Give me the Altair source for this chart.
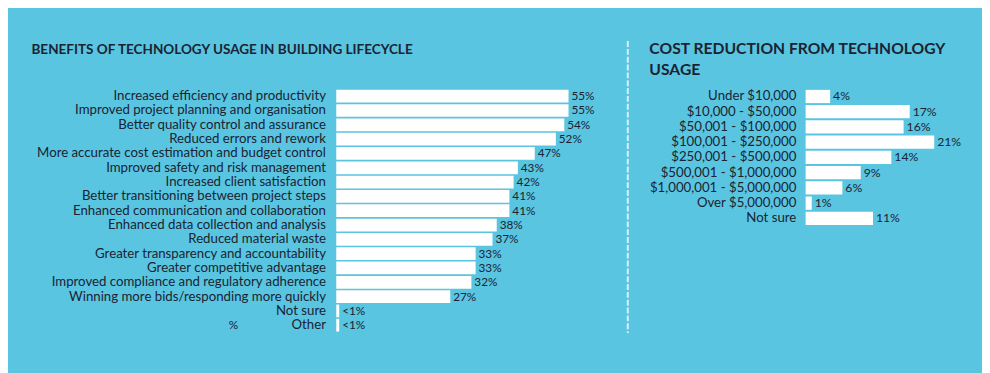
import altair as alt
import pandas as pd

# ---- data ----
benefit_labels = [
    "Increased efficiency and productivity",
    "Improved project planning and organisation",
    "Better quality control and assurance",
    "Reduced errors and rework",
    "More accurate cost estimation and budget control",
    "Improved safety and risk management",
    "Increased client satisfaction",
    "Better transitioning between project steps",
    "Enhanced communication and collaboration",
    "Enhanced data collection and analysis",
    "Reduced material waste",
    "Greater transparency and accountability",
    "Greater competitive advantage",
    "Improved compliance and regulatory adherence",
    "Winning more bids/responding more quickly",
    "Not sure",
    "Other",
]
benefit_values = [55, 55, 54, 52, 47, 43, 42, 41, 41, 38, 37, 33, 33, 32, 27, 0.7, 0.7]
benefit_texts = ["55%", "55%", "54%", "52%", "47%", "43%", "42%", "41%", "41%", "38%",
                 "37%", "33%", "33%", "32%", "27%", "<1%", "<1%"]

cost_labels = [
    "Under $10,000",
    "$10,000 - $50,000",
    "$50,001 - $100,000",
    "$100,001 - $250,000",
    "$250,001 - $500,000",
    "$500,001 - $1,000,000",
    "$1,000,001 - $5,000,000",
    "Over $5,000,000",
    "Not sure",
]
cost_values = [4, 17, 16, 21, 14, 9, 6, 1, 11]
cost_texts = ["4%", "17%", "16%", "21%", "14%", "9%", "6%", "1%", "11%"]

stray_text = ["%"]
stray_row = ["Other"]

BG = "#59c5e0"
INK = "#1b2333"
FONT = "Lato"

bdf = pd.DataFrame({"label": benefit_labels, "value": benefit_values, "text": benefit_texts})
cdf = pd.DataFrame({"label": cost_labels, "value": cost_values, "text": cost_texts})
sdf = pd.DataFrame({"label": stray_row, "text": stray_text})

# ---- left chart ----
by = alt.Y("label:N", sort=benefit_labels,
           scale=alt.Scale(paddingInner=0.11, paddingOuter=0.05),
           axis=alt.Axis(title=None, domain=False, ticks=False, labelPadding=11,
                         labelFont=FONT, labelFontSize=13.5, labelColor=INK, labelLimit=400))
bx = alt.X("value:Q", scale=alt.Scale(domain=[0, 62]), axis=None)

lbars = alt.Chart(bdf).mark_bar(color="white").encode(x=bx, y=by)
ltext = alt.Chart(bdf).mark_text(align="left", baseline="middle", dx=3, font=FONT,
                                 fontSize=12, color=INK).encode(x=bx, y=by, text="text:N")
lstray = alt.Chart(sdf).mark_text(align="center", baseline="middle", font=FONT,
                                  fontSize=12, color=INK).encode(
    x=alt.value(-105), y=alt.Y("label:N", sort=benefit_labels), text="text:N")

left = alt.layer(lbars, ltext, lstray).properties(
    width=267.2, height=248.2,
    title=alt.TitleParams("BENEFITS OF TECHNOLOGY USAGE IN BUILDING LIFECYCLE",
                          anchor="start", frame="bounds", dx=-5, offset=33,
                          font=FONT, fontSize=13.8, fontWeight="bold", color=INK)
)

# ---- divider ----
mid = alt.Chart(sdf).mark_rule(color="#d8f1f8", strokeWidth=2, strokeDash=[6, 2]).encode(
    x=alt.value(21.5), y=alt.value(-49), y2=alt.value(249)
).properties(width=35, height=248.2)

# ---- right chart ----
cy = alt.Y("label:N", sort=cost_labels,
           scale=alt.Scale(paddingInner=0.13, paddingOuter=0.05),
           axis=alt.Axis(title=None, domain=False, ticks=False, labelPadding=10,
                         labelFont=FONT, labelFontSize=13.5, labelColor=INK, labelLimit=400))
cx = alt.X("value:Q", scale=alt.Scale(domain=[0, 24]), axis=None)

rbars = alt.Chart(cdf).mark_bar(color="white").encode(x=cx, y=cy)
rtext = alt.Chart(cdf).mark_text(align="left", baseline="middle", dx=3, font=FONT,
                                 fontSize=12.5, color=INK).encode(x=cx, y=cy, text="text:N")

right = alt.layer(rbars, rtext).properties(
    width=150, height=139.5,
    title=alt.TitleParams(["COST REDUCTION FROM TECHNOLOGY", "USAGE"],
                          anchor="start", frame="bounds", offset=11, lineHeight=21.7,
                          font=FONT, fontSize=16, fontWeight="bold", color=INK)
)

chart = alt.hconcat(left, mid, right, spacing=8).properties(
    padding={"left": 23, "top": 29, "right": 21, "bottom": 38},
    background=BG,
).configure_view(stroke=None).configure_concat(spacing=8)

chart.save("out.html", embed_options={"renderer": "svg", "actions": False})
